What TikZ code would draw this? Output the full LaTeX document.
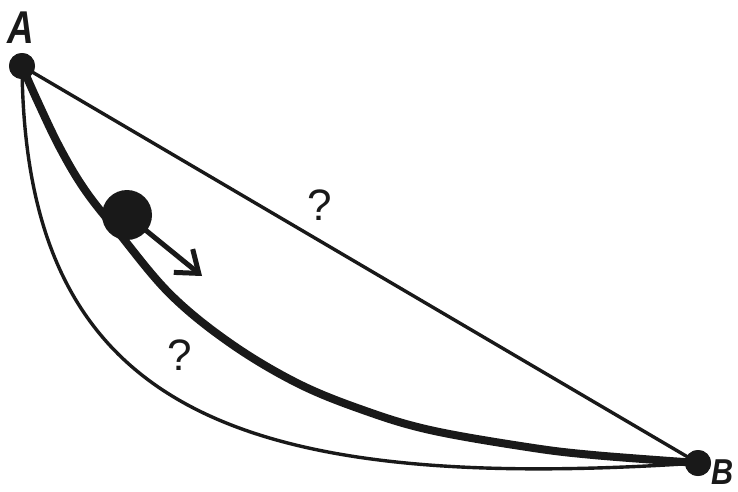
\documentclass[tikz,border=0pt]{standalone}
\usepackage{fontspec}
\setmainfont{Liberation Sans}
\usetikzlibrary{arrows.meta}
\tikzset{
  dot/.style={circle, fill=black!90, inner sep=0pt, minimum size=26pt},
  ptlabel/.style={inner sep=0pt, font=\fontsize{46}{46}\selectfont\bfseries\itshape, text=black!90},
  qlabel/.style={inner sep=0pt, font=\fontsize{44}{44}\selectfont, text=black!90},
  thinline/.style={line width=3.4pt, draw=black!90},
  thickline/.style={line width=8pt, draw=black!90, line cap=round},
}
\begin{document}
\begin{tikzpicture}[x=1pt, y=-1pt]
\useasboundingbox (0,0) rectangle (738,491);
\fill[white] (0,0) rectangle (738,491);
% end points
\node[dot] (A) at (22,66) {};
\node[dot] (B) at (698,463) {};
% straight line
\draw[thinline] (A.center) -- (B.center);
% lower thin curve
\draw[thinline] (A.center) .. controls (25,400) and (220,495) .. (B.center);
% thick curve
\draw[thickline] plot[smooth, tension=0.6] coordinates {(A.center) (37,100) (60,148) (85,190) (118,232) (170,294) (230,343) (297,383) (363,410) (430,430) (527,447) (593,455) (B.center)};
% redraw dots on top
\node[dot] at (A) {};
\node[dot] at (B) {};
% ball and arrow
\node[circle, fill=black!90, inner sep=0pt, minimum size=50pt] (ball) at (127,215) {};
\coordinate (tip) at (202,276);
\draw[line width=5pt, draw=black!90, -{Straight Barb[length=20pt, width=30pt]}] (ball.center) -- (tip);
% labels
\node[ptlabel, anchor=base] (la) at (21,43) {\scalebox{0.8}[1]{A}};
\node[ptlabel, anchor=base west, font=\fontsize{36}{36}\selectfont\bfseries\itshape] (lb) at (711,484) {\scalebox{0.85}[1]{B}};
\node[qlabel] (q1) at (320,205) {?};
\node[qlabel] (q2) at (180,355) {?};
\end{tikzpicture}
\end{document}
